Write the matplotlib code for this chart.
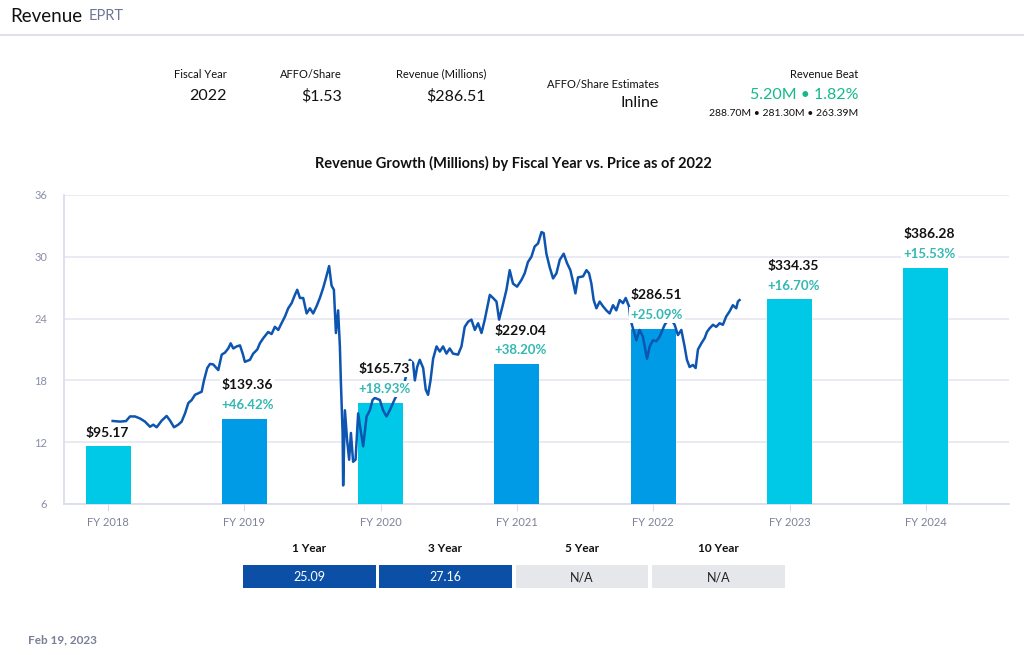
import numpy as np
import matplotlib.pyplot as plt
from matplotlib.patches import Rectangle
from matplotlib.lines import Line2D

plt.rcParams['font.family'] = ['Lato', 'DejaVu Sans']

fiscal_years = ['FY 2018', 'FY 2019', 'FY 2020', 'FY 2021', 'FY 2022', 'FY 2023', 'FY 2024']
revenue = [95.17, 139.36, 165.73, 229.04, 286.51, 334.35, 386.28]
growth = ['', '+46.42%', '+18.93%', '+38.20%', '+25.09%', '+16.70%', '+15.53%']
bar_colors = ['#00c9e8', '#009be6', '#00c9e8', '#009be6', '#009be6', '#00c9e8', '#00c9e8']

# share price (time in fractional fiscal years)
price_year = [
    2018.034, 2018.088, 2018.132, 2018.161, 2018.198, 2018.235, 2018.271, 2018.308, 2018.332, 2018.357,
    2018.394, 2018.430, 2018.455, 2018.484, 2018.515, 2018.540, 2018.565, 2018.589, 2018.614, 2018.638,
    2018.662, 2018.687, 2018.704, 2018.728, 2018.748, 2018.772, 2018.809, 2018.834, 2018.858, 2018.882,
    2018.900, 2018.919, 2018.944, 2018.968, 2018.988, 2019.004, 2019.041, 2019.065, 2019.095, 2019.114,
    2019.139, 2019.175, 2019.200, 2019.224, 2019.249, 2019.273, 2019.298, 2019.322, 2019.347, 2019.371,
    2019.388, 2019.408, 2019.432, 2019.457, 2019.481, 2019.505, 2019.530, 2019.554, 2019.578, 2019.598,
    2019.622, 2019.640, 2019.657, 2019.672, 2019.688, 2019.701, 2019.708, 2019.721, 2019.725, 2019.738,
    2019.754, 2019.769, 2019.782, 2019.798, 2019.816, 2019.835, 2019.853, 2019.872, 2019.897, 2019.921,
    2019.941, 2019.957, 2019.994, 2020.018, 2020.043, 2020.067, 2020.104, 2020.141, 2020.177, 2020.214,
    2020.238, 2020.251, 2020.268, 2020.287, 2020.312, 2020.331, 2020.348, 2020.366, 2020.385, 2020.410,
    2020.434, 2020.458, 2020.483, 2020.507, 2020.531, 2020.568, 2020.593, 2020.617, 2020.642, 2020.666,
    2020.691, 2020.715, 2020.740, 2020.764, 2020.801, 2020.825, 2020.850, 2020.869, 2020.894, 2020.923,
    2020.947, 2020.971, 2021.001, 2021.033, 2021.057, 2021.081, 2021.106, 2021.130, 2021.155, 2021.180,
    2021.196, 2021.216, 2021.240, 2021.265, 2021.290, 2021.314, 2021.343, 2021.367, 2021.392, 2021.411,
    2021.429, 2021.448, 2021.485, 2021.510, 2021.529, 2021.546, 2021.563, 2021.583, 2021.607, 2021.631,
    2021.656, 2021.680, 2021.705, 2021.729, 2021.754, 2021.778, 2021.798, 2021.822, 2021.833, 2021.851,
    2021.876, 2021.900, 2021.924, 2021.954, 2021.974, 2021.998, 2022.023, 2022.047, 2022.084, 2022.110,
    2022.133, 2022.157, 2022.181, 2022.206, 2022.230, 2022.247, 2022.267, 2022.291, 2022.311, 2022.328,
    2022.353, 2022.377, 2022.394, 2022.413, 2022.438, 2022.462, 2022.487, 2022.511, 2022.535, 2022.560,
    2022.584, 2022.609, 2022.621, 2022.633,
]
price = [
    14.06, 14.0, 14.05, 14.5, 14.5, 14.3, 14.0, 13.5, 13.7, 13.45,
    14.1, 14.55, 14.1, 13.45, 13.7, 14.0, 14.8, 15.8, 16.1, 16.6,
    16.75, 16.9, 18.0, 19.2, 19.6, 19.55, 19.0, 20.5, 20.7, 21.1,
    21.6, 21.1, 21.3, 21.4, 20.6, 19.8, 20.0, 20.6, 21.0, 21.6,
    22.1, 22.7, 22.5, 23.2, 22.9, 23.55, 24.2, 25.0, 25.5, 26.3,
    26.8, 26.0, 26.0, 24.5, 25.0, 24.5, 25.2, 26.0, 26.95, 27.9,
    29.1, 27.2, 26.8, 22.6, 24.8, 21.3, 18.0, 12.9, 7.8, 15.1,
    12.2, 10.3, 12.9, 10.1, 10.3, 14.8, 13.2, 11.6, 14.5, 15.1,
    16.1, 16.3, 16.1, 15.1, 14.5, 15.1, 16.2, 17.1, 17.9, 20.0,
    19.7, 18.0, 19.3, 20.0, 19.2, 17.1, 16.6, 18.0, 20.1, 21.3,
    20.8, 21.3, 20.6, 21.1, 20.6, 20.5, 21.3, 23.2, 23.7, 23.9,
    22.9, 23.55, 22.6, 23.9, 26.3, 26.0, 25.65, 23.9, 25.2, 26.8,
    28.7, 27.4, 27.1, 27.75, 28.4, 29.5, 30.0, 31.0, 31.3, 32.4,
    32.3, 30.3, 29.0, 27.9, 28.4, 29.7, 30.3, 29.4, 28.7, 27.6,
    26.45, 28.0, 28.1, 28.7, 28.4, 27.4, 25.8, 25.0, 25.65, 25.2,
    24.8, 24.5, 25.3, 24.8, 25.8, 25.5, 26.0, 25.2, 23.9, 23.05,
    21.9, 22.9, 22.25, 20.1, 21.3, 21.9, 21.8, 22.25, 23.4, 23.9,
    23.9, 23.4, 22.4, 22.9, 21.3, 20.0, 19.3, 19.5, 19.2, 21.0,
    21.6, 22.1, 22.7, 23.05, 23.4, 23.2, 23.55, 23.4, 24.2, 24.7,
    25.3, 25.0, 25.65, 25.8,
]
price_ticks = [6, 12, 18, 24, 30, 36]

headers = [('Fiscal Year', '2022'), ('AFFO/Share', '$1.53'), ('Revenue (Millions)', '$286.51')]
period_labels = ['1 Year', '3 Year', '5 Year', '10 Year']
period_values = ['25.09', '27.16', 'N/A', 'N/A']

W, H = 1024, 655
fig = plt.figure(figsize=(W / 100, H / 100), dpi=100)

def fx(px):
    return px / W

def fy(py):
    return 1 - py / H

# page header
fig.text(fx(10), fy(16), 'Revenue', fontsize=13.5, color='#111111', va='center')
fig.text(fx(89), fy(16.5), 'EPRT', fontsize=10.5, color='#6e7596', va='center')
fig.add_artist(Line2D([0, 1], [fy(35), fy(35)], color='#d9dbe3', lw=1.2))

hx = [227, 342, 486]
for x, (lab, val) in zip(hx, headers):
    fig.text(fx(x), fy(74), lab, fontsize=8, ha='right', va='center', color='#111111')
    fig.text(fx(x), fy(96), val, fontsize=11.5, ha='right', va='center', color='#111111')
fig.text(fx(659), fy(84), 'AFFO/Share Estimates', fontsize=8, ha='right', va='center', color='#111111')
fig.text(fx(659), fy(103), 'Inline', fontsize=11.5, ha='right', va='center', color='#111111')
fig.text(fx(858), fy(74), 'Revenue Beat', fontsize=8, ha='right', va='center', color='#111111')
fig.text(fx(858), fy(95), '5.20M • 1.82%', fontsize=11.5, ha='right', va='center', color='#14b98a')
fig.text(fx(858), fy(113), '288.70M • 281.30M • 263.39M', fontsize=7.5, ha='right', va='center', color='#111111')

fig.text(fx(513), fy(163), 'Revenue Growth (Millions) by Fiscal Year vs. Price as of 2022',
         fontsize=10.5, fontweight='bold', ha='center', va='center', color='#111111')

# chart
ax = fig.add_axes([fx(64), fy(504), fx(1009) - fx(64), fy(195) - fy(504)])
x = np.arange(len(fiscal_years))
ax.set_xlim(-0.323, 6.61)
ax.set_ylim(6, 36)
ax.set_yticks(price_ticks)
ax.yaxis.grid(True, color='#e6e8f0', lw=1.2)
ax.set_axisbelow(True)
ax.tick_params(axis='y', length=0, pad=12, labelsize=8, labelcolor='#8a8fa6')
ax.set_xticks(x)
ax.set_xticklabels(fiscal_years)
ax.tick_params(axis='x', length=5, color='#d7dcec', pad=4, labelsize=8, labelcolor='#7d8299')
for s in ['top', 'right']:
    ax.spines[s].set_visible(False)
for s in ['left', 'bottom']:
    ax.spines[s].set_color('#d7dcec')
    ax.spines[s].set_linewidth(1.2)

ax_bar = ax.twinx()
ax_bar.set_ylim(0, 505)
ax_bar.axis('off')
bar_w = 0.33
ax_bar.bar(x, revenue, width=bar_w, color=bar_colors)

ax_line = ax.twinx()
ax_line.set_ylim(6, 36)
ax_line.axis('off')
ax_line.plot(np.array(price_year) - 2018, price, color='#0d55b0', lw=1.8, zorder=2)

box = dict(facecolor='white', edgecolor='none', pad=1.5)
for i, (rev, g) in enumerate(zip(revenue, growth)):
    left = i - bar_w / 2
    if g:
        ax_line.annotate(g, (left, rev), xycoords=ax_bar.transData, xytext=(0, 10),
                         textcoords='offset points', ha='left', va='center', fontsize=9.5,
                         fontweight='bold', color='#33b8b2', bbox=box, zorder=5)
        off = 24
    else:
        off = 9.5
    ax_line.annotate(f'${rev:.2f}', (left, rev), xycoords=ax_bar.transData, xytext=(0, off),
                     textcoords='offset points', ha='left', va='center', fontsize=10,
                     fontweight='bold', color='#111111', bbox=box, zorder=5)

# growth table
cells = [(243, 376), (379, 512), (516, 648), (652, 785)]
for (x0, x1), lab, val in zip(cells, period_labels, period_values):
    cx = (x0 + x1) / 2
    fig.text(fx(cx), fy(549), lab, fontsize=8.5, fontweight='bold', ha='center', va='center', color='#111111')
    na = val == 'N/A'
    fig.add_artist(Rectangle((fx(x0), fy(588)), fx(x1 - x0), fy(565) - fy(588),
                             transform=fig.transFigure, facecolor='#e6e7eb' if na else '#0b50a6',
                             edgecolor='none'))
    fig.text(fx(cx), fy(577), val, fontsize=9, ha='center', va='center',
             color='#222222' if na else 'white')

fig.text(fx(28), fy(640), 'Feb 19, 2023', fontsize=8.5, fontweight='bold', va='center', color='#7a7f96')

fig.savefig('out.png', dpi=100)
plt.close()
